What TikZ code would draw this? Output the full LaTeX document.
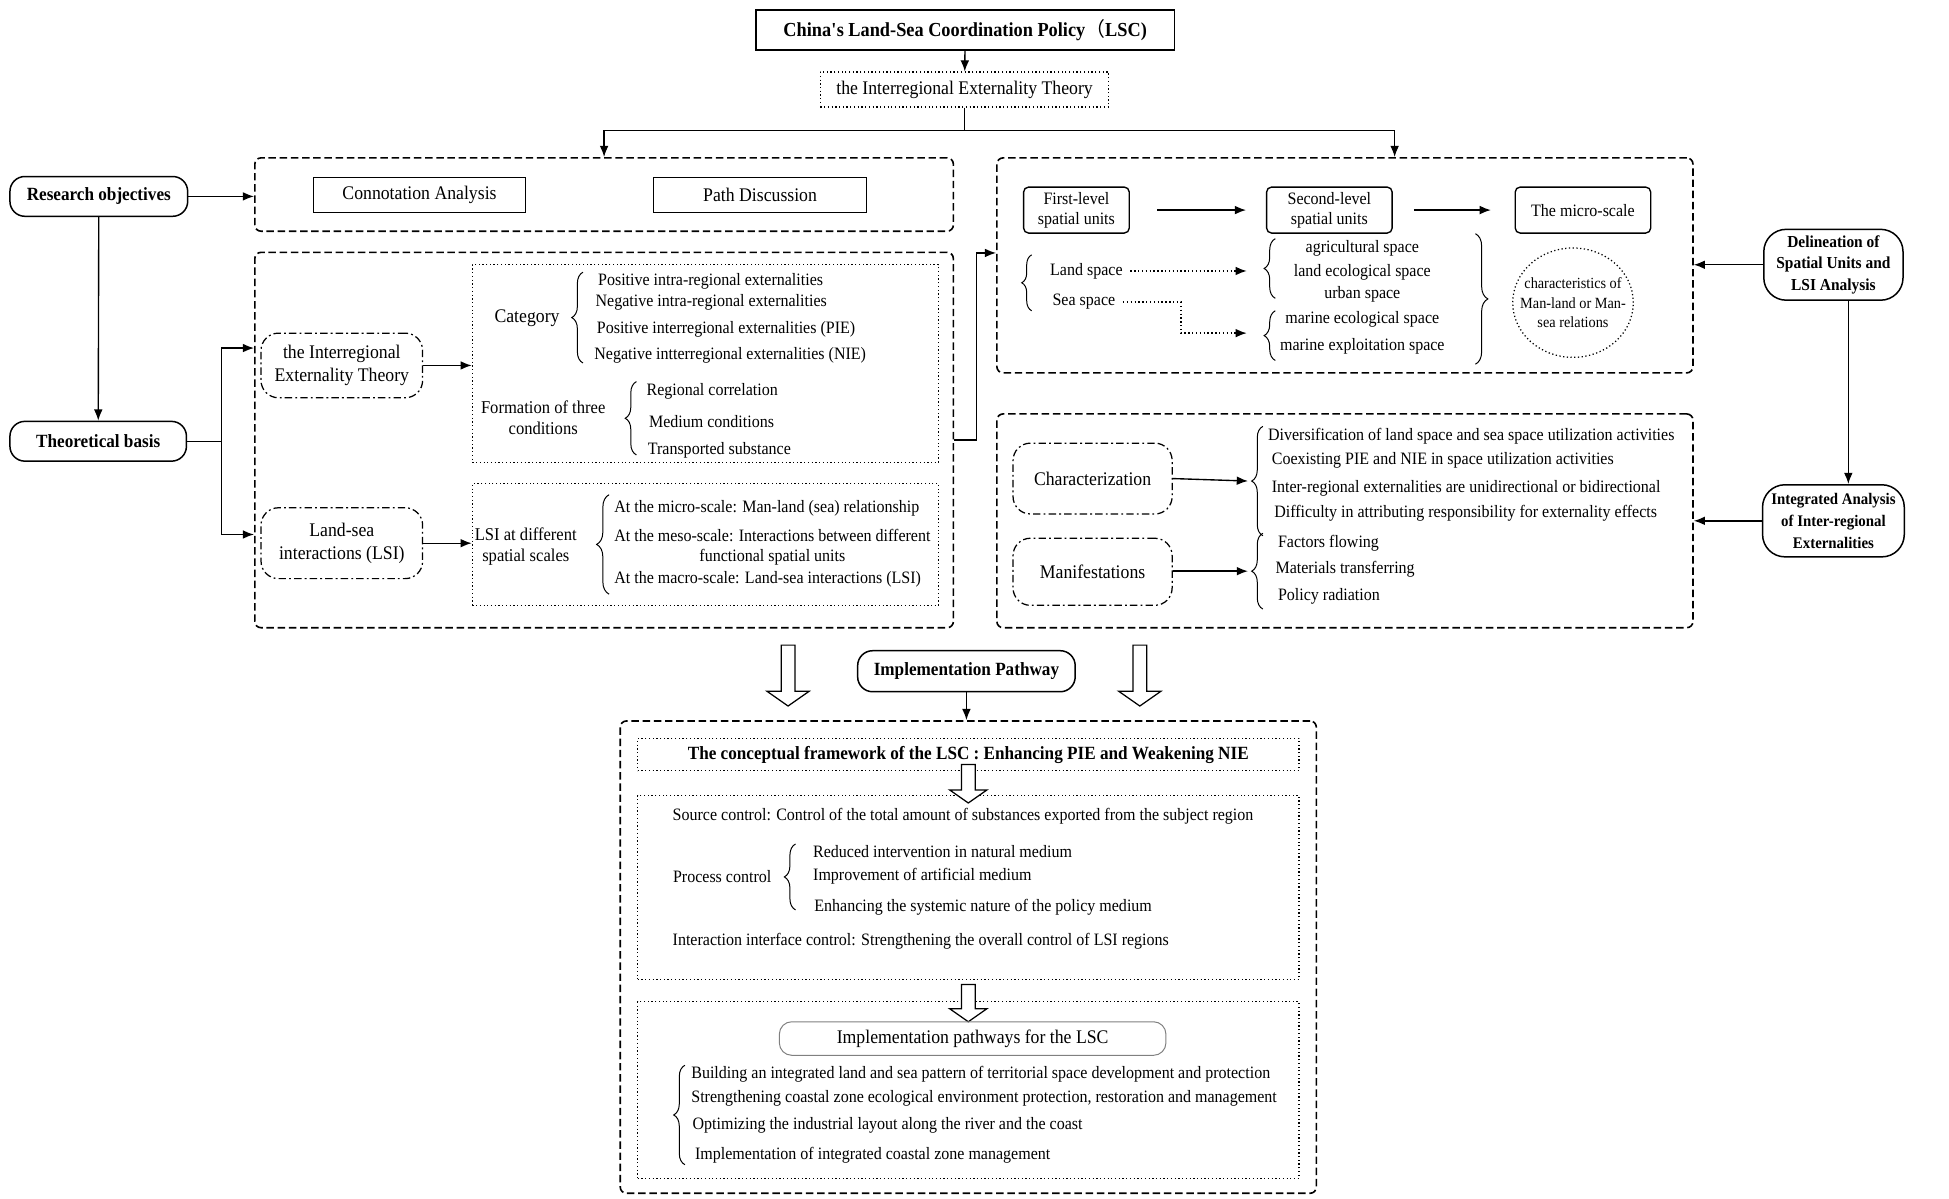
\documentclass[tikz,border=0pt]{standalone}
\usepackage{fontspec}
\setmainfont[FakeStretch=0.92]{Liberation Serif}
\newfontfamily\cjk{Noto Sans CJK SC}
\usetikzlibrary{arrows.meta,decorations.pathreplacing,shapes.geometric,calc}
\newcommand\nf{\fontsize{14}{16}\selectfont}
\newcommand\mf{\fontsize{15.5}{18}\selectfont}
\newcommand\bfn{\bfseries\fontsize{15}{17.5}\selectfont}
\newcommand\hollowdown[4]{% x, ytop, ybot, half head width
  \draw[line width=1pt, fill=white] ({#1-5.5},#2) -- ({#1+5.5},#2) -- ({#1+5.5},{#3-0.7*#4}) -- ({#1+#4},{#3-0.7*#4}) -- (#1,#3) -- ({#1-#4},{#3-0.7*#4}) -- ({#1-5.5},{#3-0.7*#4}) -- cycle;}
\begin{document}
\begin{tikzpicture}[x=1pt,y=-1pt,
  every node/.style={font=\nf, inner sep=1pt},
  outerbox/.style={draw, line width=1.3pt, dash pattern=on 6pt off 3pt, rounded corners=5pt, inner sep=0pt},
  dotbox/.style={draw, line width=1pt, dotted, inner sep=0pt},
  solidbox/.style={draw, line width=0.9pt, inner sep=0pt},
  roundbox/.style={draw, line width=1.2pt, rounded corners=12pt, inner sep=0pt, font=\bfn, align=center},
  ddbox/.style={draw, line width=1pt, dash pattern=on 6pt off 2.5pt on 1.5pt off 2.5pt, rounded corners=14pt, inner sep=0pt, align=center, font=\mf},
  arr/.style={-{Latex[length=9pt,width=7pt]}, line width=1.1pt},
  darr/.style={-{Latex[length=9pt,width=7pt]}, line width=1.1pt, dotted},
  brc/.style={decorate, decoration={brace, amplitude=#1}, line width=0.8pt},
  brc/.default=8pt,
  item/.style={anchor=west}
]
\useasboundingbox (0,0) rectangle (1568,964.6);

% ---------- top ----------
\node[solidbox, line width=1.3pt, minimum width=337, minimum height=32, font=\bfseries\fontsize{16}{18}\selectfont] (title) at (776.5,24) {China\textquotesingle s Land-Sea Coordination Policy{\cjk\mdseries （}LSC)};
\node[dotbox, minimum width=232, minimum height=28, font=\mf] (iet0) at (776,72) {the Interregional Externality Theory};
\draw[arr] (title) -- (iet0);
\coordinate (br) at (776,105);
\draw[line width=1.1pt] (iet0.south) -- (br);

% ---------- outer dashed boxes ----------
\node[outerbox, minimum width=562, minimum height=59] (objbox) at (486,156.5) {};
\node[outerbox, minimum width=562, minimum height=302] (thbox) at (486,354) {};
\node[outerbox, minimum width=560, minimum height=173] (rtbox) at (1082,213.5) {};
\node[outerbox, minimum width=560, minimum height=172] (rbbox) at (1082,419) {};
\node[outerbox, minimum width=560, minimum height=380] (bbox) at (779,770) {};

\draw[arr] (br) -| (objbox.north);
\draw[arr] (br) -| ([xshift=40pt]rtbox.north);

% ---------- left column ----------
\node[roundbox, minimum width=143, minimum height=32] (resobj) at (79.5,158) {Research objectives};
\node[roundbox, minimum width=142, minimum height=32] (theo) at (79,355) {Theoretical basis};
\draw[arr] (resobj.east) -- (objbox.west |- resobj.east);
\draw[arr] (resobj) -- (theo);
\coordinate (tj) at (178,355);
\draw[line width=1.1pt] (theo.east) -- (tj);
\draw[arr] (tj) |- (thbox.west |- 0,280);
\draw[arr] (tj) |- (thbox.west |- 0,430);

% ---------- objectives box ----------
\node[solidbox, minimum width=171, minimum height=28, font=\mf] (conn) at (337.5,157) {Connotation Analysis};
\node[solidbox, minimum width=171, minimum height=28, font=\mf] (path) at (611.5,157) {Path Discussion};

% ---------- theory box ----------
\node[ddbox, minimum width=130, minimum height=52] (iet) at (275,294) {the Interregional\\Externality Theory};
\node[ddbox, minimum width=130, minimum height=57] (lsi) at (275,437) {Land-sea\\interactions (LSI)};
\node[dotbox, minimum width=375, minimum height=159] (db1) at (567.5,292.5) {};
\node[dotbox, minimum width=375, minimum height=98] (db2) at (567.5,438) {};
\draw[arr] (iet.east) -- (db1.west |- iet.east);
\draw[arr] (lsi.east) -- (db2.west |- lsi.east);

\node[font=\fontsize{15.5}{18}\selectfont] (cat) at (424,256) {Category};
\draw[brc=9pt] (469,292) -- (469,219);
\node[item] (c1) at (480,226) {Positive intra-regional externalities};
\node[item] (c2) at (478,243) {Negative intra-regional externalities};
\node[item] (c3) at (479,265) {Positive interregional externalities (PIE)};
\node[item] (c4) at (477,286) {Negative intterregional externalities (NIE)};

\node[align=center, font=\fontsize{14.5}{17}\selectfont] (form) at (437,336) {Formation of three\\conditions};
\draw[brc=9pt] (512,366) -- (512,307);
\node[item] (f1) at (519,315) {Regional correlation};
\node[item] (f2) at (521,339) {Medium conditions};
\node[item] (f3) at (520,362) {Transported substance};

\node[align=center, font=\fontsize{14.5}{17}\selectfont] (lsid) at (423,440) {LSI at different\\spatial scales};
\draw[brc=10pt] (490,478) -- (490,398);
\node[item] (l1) at (493,409) {At the micro-scale: Man-land (sea) relationship};
\node[item, align=center] (l2) at (493,440) {At the meso-scale: Interactions between different\\functional spatial units};
\node[item] (l3) at (493,466) {At the macro-scale: Land-sea interactions (LSI)};

\draw[arr] (thbox.east) -- ++(18pt,0) |- ([yshift=10pt]rtbox.west);

% ---------- right top box ----------
\node[draw, line width=1.1pt, rounded corners=4pt, minimum width=85, minimum height=37, align=center, inner sep=0pt] (fl) at (866,169) {First-level\\spatial units};
\node[draw, line width=1.1pt, rounded corners=4pt, minimum width=101, minimum height=37, align=center, inner sep=0pt] (sl) at (1069.5,169) {Second-level\\spatial units};
\node[draw, line width=1.1pt, rounded corners=4pt, minimum width=109, minimum height=37, inner sep=0pt, font=\fontsize{14}{16}\selectfont] (ms) at (1273.5,169) {The micro-scale};
\draw[arr] ([xshift=22pt]fl.east) -- ([xshift=-16pt]sl.west);
\draw[arr] ([xshift=17pt]sl.east) -- ([xshift=-19pt]ms.west);

\draw[brc=8pt] (830,250) -- (830,205);
\node (land) at (874,218) {Land space};
\node (sea) at (872,243) {Sea space};

\draw[brc=9pt] (1026,240) -- (1026,192);
\draw[brc=9pt] (1026,290) -- (1026,250);
\coordinate (agtip) at (1003,218);
\coordinate (matip) at (1003,268);
\draw[darr] ([xshift=5pt]land.east) -- (agtip);
\draw[darr] ([xshift=5pt]sea.east) -| (950,268) -- (matip);

\node (a1) at (1096,200) {agricultural space};
\node (a2) at (1096,219) {land ecological space};
\node (a3) at (1096,237) {urban space};
\node (m1) at (1096,257) {marine ecological space};
\node (m2) at (1096,279) {marine exploitation space};

\draw[brc=10pt] (1187,188) -- (1187,293);
\node[ellipse, draw, dotted, line width=1pt, minimum width=97, minimum height=88, inner sep=0pt] (circ) at (1265.5,243.5) {};
\node[align=center, font=\fontsize{12.5}{16}\selectfont] (circt) at (circ.center) {characteristics of\\Man-land or Man-\\sea relations};

% ---------- right column ----------
\node[roundbox, rounded corners=18pt, minimum width=112, minimum height=57, font=\bfseries\fontsize{13.5}{17.5}\selectfont] (del) at (1475,213) {Delineation of\\Spatial Units and\\LSI Analysis};
\node[roundbox, rounded corners=18pt, minimum width=114, minimum height=58, font=\bfseries\fontsize{13}{17.5}\selectfont] (int) at (1475,419) {Integrated Analysis\\of Inter-regional\\Externalities};
\draw[arr] (del.west) -- (rtbox.east |- del.west);
\draw[arr] (int.west) -- (rbbox.east |- int.west);
\draw[arr] ([xshift=12pt]del.south) -- ([xshift=12pt]int.north);

% ---------- right bottom box ----------
\node[ddbox, minimum width=128, minimum height=57] (char) at (879,385) {Characterization};
\node[ddbox, minimum width=128, minimum height=54] (man) at (879,460) {Manifestations};
\draw[brc=9pt] (1016,431) -- (1016,343);
\draw[brc=9pt] (1016,490) -- (1016,429);
\coordinate (chtip) at (1004,387);
\coordinate (mntip) at (1004,459.5);
\draw[arr] (char.east) -- (chtip);
\draw[arr] (man.east |- mntip) -- (mntip);
\node[item] (h1) at (1019,351) {Diversification of land space and sea space utilization activities};
\node[item] (h2) at (1022,370) {Coexisting PIE and NIE in space utilization activities};
\node[item] (h3) at (1022,393) {Inter-regional externalities are unidirectional or bidirectional};
\node[item] (h4) at (1024,413) {Difficulty in attributing responsibility for externality effects};
\node[item] (p1) at (1027,437) {Factors flowing};
\node[item] (p2) at (1025,458) {Materials transferring};
\node[item] (p3) at (1027,480) {Policy radiation};

% ---------- implementation ----------
\hollowdown{634}{519}{568}{17}
\hollowdown{917}{519}{568}{17}
\node[roundbox, minimum width=175, minimum height=33] (ip) at (777.5,540) {Implementation Pathway};
\draw[arr] (ip.south) -- (ip.south |- bbox.north);

\node[dotbox, minimum width=532, minimum height=26, font=\bfn] (cf) at (779,607) {The conceptual framework of the LSC : Enhancing PIE and Weakening NIE};
\node[dotbox, minimum width=532, minimum height=148] (sc) at (779,714) {};
\node[dotbox, minimum width=532, minimum height=142] (ipw) at (779,877) {};
\hollowdown{779}{615}{646}{15}
\hollowdown{779}{792}{822}{15}

\node[item] (s1) at (540,657) {Source control: Control of the total amount of substances exported from the subject region};
\node (pc) at (581,705) {Process control};
\draw[brc=9pt] (640,732) -- (640,679);
\node[item] (pc1) at (653,685) {Reduced intervention in natural medium};
\node[item] (pc2) at (653,705) {Improvement of artificial medium};
\node[item] (pc3) at (654,730) {Enhancing the systemic nature of the policy medium};
\node[item] (s3) at (540,757) {Interaction interface control: Strengthening the overall control of LSI regions};

\node[draw, gray, text=black, line width=0.8pt, rounded corners=10pt, minimum width=311, minimum height=27, inner sep=0pt, font=\fontsize{15.5}{18}\selectfont] (ipl) at (782.5,835.5) {Implementation pathways for the LSC};
\draw[brc=9pt] (551,937) -- (551,857);
\node[item] (w1) at (555,864) {Building an integrated land and sea pattern of territorial space development and protection};
\node[item] (w2) at (555,884) {Strengthening coastal zone ecological environment protection, restoration and management};
\node[item] (w3) at (556,905) {Optimizing the industrial layout along the river and the coast};
\node[item] (w4) at (558,929) {Implementation of integrated coastal zone management};
\end{tikzpicture}
\end{document}
